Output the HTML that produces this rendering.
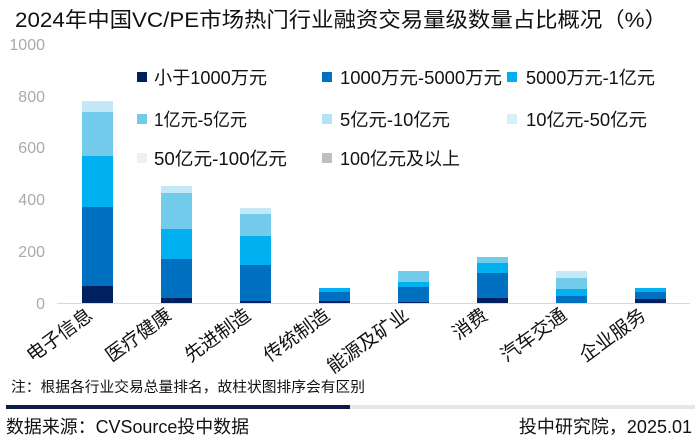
<!DOCTYPE html>
<html><head><meta charset="utf-8"><style>
html,body{margin:0;padding:0;background:#fff;}
svg{display:block;font-family:"Liberation Sans","Noto Sans CJK SC",sans-serif;}
</style></head><body>
<svg width="700" height="441" viewBox="0 0 700 441" xmlns="http://www.w3.org/2000/svg">
<text x="15" y="27" font-size="21" fill="#111" textLength="652" lengthAdjust="spacingAndGlyphs">2024年中国VC/PE市场热门行业融资交易量级数量占比概况（%）</text>
<g font-size="16" fill="#aaa" text-anchor="end">
<text x="45" y="50">1000</text>
<text x="45" y="102">800</text>
<text x="45" y="153">600</text>
<text x="45" y="205">400</text>
<text x="45" y="257">200</text>
<text x="45" y="309">0</text>
</g>
<line x1="57" y1="303.5" x2="690" y2="303.5" stroke="#d9d9d9" stroke-width="1"/>
<g>
<rect x="82" y="101" width="31" height="11" fill="#c5e8f7"/>
<rect x="82" y="112" width="31" height="44" fill="#72cbea"/>
<rect x="82" y="156" width="31" height="51" fill="#00b0f0"/>
<rect x="82" y="207" width="31" height="79" fill="#0070c0"/>
<rect x="82" y="286" width="31" height="17" fill="#002060"/>
<rect x="161" y="186" width="31" height="7" fill="#c5e8f7"/>
<rect x="161" y="193" width="31" height="36" fill="#72cbea"/>
<rect x="161" y="229" width="31" height="30" fill="#00b0f0"/>
<rect x="161" y="259" width="31" height="39" fill="#0070c0"/>
<rect x="161" y="298" width="31" height="5" fill="#002060"/>
<rect x="240" y="208" width="31" height="6" fill="#c5e8f7"/>
<rect x="240" y="214" width="31" height="22" fill="#72cbea"/>
<rect x="240" y="236" width="31" height="29" fill="#00b0f0"/>
<rect x="240" y="265" width="31" height="36" fill="#0070c0"/>
<rect x="240" y="301" width="31" height="2" fill="#002060"/>
<rect x="319" y="288" width="31" height="4" fill="#00b0f0"/>
<rect x="319" y="292" width="31" height="9" fill="#0070c0"/>
<rect x="319" y="301" width="31" height="2" fill="#002060"/>
<rect x="398" y="271" width="31" height="11" fill="#72cbea"/>
<rect x="398" y="282" width="31" height="5" fill="#00b0f0"/>
<rect x="398" y="287" width="31" height="15" fill="#0070c0"/>
<rect x="398" y="302" width="31" height="1" fill="#002060"/>
<rect x="477" y="257" width="31" height="6" fill="#72cbea"/>
<rect x="477" y="263" width="31" height="10" fill="#00b0f0"/>
<rect x="477" y="273" width="31" height="25" fill="#0070c0"/>
<rect x="477" y="298" width="31" height="5" fill="#002060"/>
<rect x="556" y="271" width="31" height="7" fill="#c5e8f7"/>
<rect x="556" y="278" width="31" height="11" fill="#72cbea"/>
<rect x="556" y="289" width="31" height="7" fill="#00b0f0"/>
<rect x="556" y="296" width="31" height="7" fill="#0070c0"/>
<rect x="635" y="288" width="31" height="4" fill="#00b0f0"/>
<rect x="635" y="292" width="31" height="7" fill="#0070c0"/>
<rect x="635" y="299" width="31" height="4" fill="#002060"/>
</g>
<g font-size="18" fill="#111">
<rect x="137" y="72" width="10" height="10" fill="#002060"/><text x="154" y="84" textLength="113" lengthAdjust="spacingAndGlyphs">小于1000万元</text>
<rect x="322" y="72" width="10" height="10" fill="#0070c0"/><text x="340" y="84" textLength="162" lengthAdjust="spacingAndGlyphs">1000万元-5000万元</text>
<rect x="507" y="72" width="10" height="10" fill="#00b0f0"/><text x="526" y="84" textLength="129" lengthAdjust="spacingAndGlyphs">5000万元-1亿元</text>
<rect x="137" y="114" width="10" height="10" fill="#72cbea"/><text x="154" y="126" textLength="93" lengthAdjust="spacingAndGlyphs">1亿元-5亿元</text>
<rect x="322" y="114" width="10" height="10" fill="#b4e2f5"/><text x="340" y="126" textLength="110" lengthAdjust="spacingAndGlyphs">5亿元-10亿元</text>
<rect x="507" y="114" width="10" height="10" fill="#d6eef8"/><text x="526" y="126" textLength="121" lengthAdjust="spacingAndGlyphs">10亿元-50亿元</text>
<rect x="137" y="153" width="10" height="10" fill="#f0f0f0"/><text x="154" y="165" textLength="133" lengthAdjust="spacingAndGlyphs">50亿元-100亿元</text>
<rect x="322" y="153" width="10" height="10" fill="#bfbfbf"/><text x="340" y="165" textLength="120" lengthAdjust="spacingAndGlyphs">100亿元及以上</text>
</g>
<g font-size="19" fill="#111" text-anchor="end">
<text transform="translate(94,318) rotate(-36)">电子信息</text>
<text transform="translate(173,318) rotate(-36)">医疗健康</text>
<text transform="translate(252,318) rotate(-36)">先进制造</text>
<text transform="translate(331,318) rotate(-36)">传统制造</text>
<text transform="translate(410,318) rotate(-36)">能源及矿业</text>
<text transform="translate(489,318) rotate(-36)">消费</text>
<text transform="translate(568,318) rotate(-36)">汽车交通</text>
<text transform="translate(647,318) rotate(-36)">企业服务</text>
</g>
<text x="11" y="392" font-size="14.5" fill="#111" textLength="354" lengthAdjust="spacingAndGlyphs">注：根据各行业交易总量排名，故柱状图排序会有区别</text>
<rect x="6" y="405" width="344" height="4" fill="#0d1a4a"/>
<rect x="350" y="405" width="345" height="4" fill="#e6e6e6"/>
<text x="6" y="433" font-size="18" fill="#111" textLength="243" lengthAdjust="spacingAndGlyphs">数据来源：CVSource投中数据</text>
<text x="692" y="433" font-size="18" fill="#111" text-anchor="end">投中研究院，2025.01</text>
</svg>
</body></html>
